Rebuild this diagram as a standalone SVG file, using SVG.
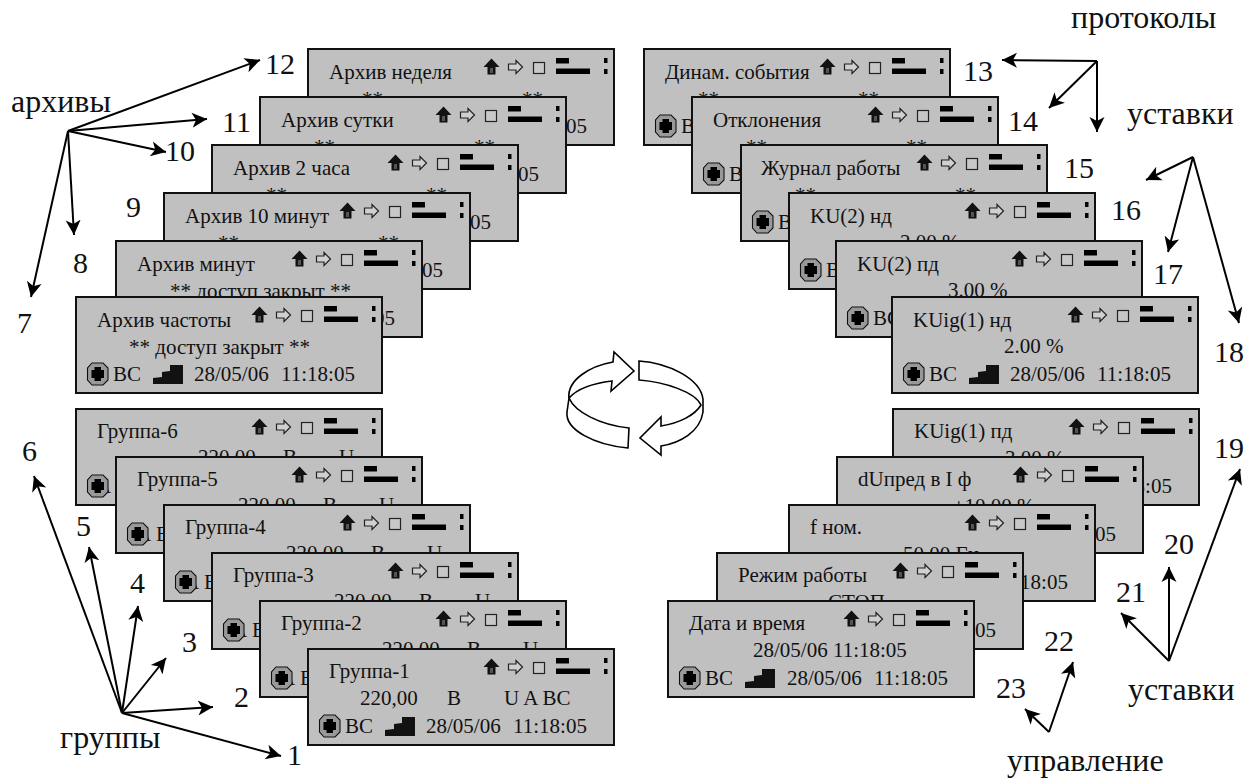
<svg xmlns="http://www.w3.org/2000/svg" xmlns:xlink="http://www.w3.org/1999/xlink" width="1251" height="780" viewBox="0 0 1251 780">
<style>
text{font-family:"Liberation Serif","Times New Roman",serif;fill:#111}
.t{font-size:21px}
.l{font-size:30px}
.w{font-size:32px}
.card{fill:#c0c0c0;stroke:#111;stroke-width:2}
.c{fill:none;stroke:#000;stroke-width:2;marker-end:url(#ah)}
.rot{fill:#fff;stroke:#000;stroke-width:1.6;stroke-linejoin:miter}
</style>
<defs>
<marker id="ah" markerUnits="userSpaceOnUse" markerWidth="20" markerHeight="18" refX="15" refY="9" orient="auto"><path d="M15,9 L0,1.500 L4,9 L0,16.500 Z" fill="#000"/></marker>
<g id="icons">
<path d="M183.500,9.500 L191.500,18 L187.500,18 L187.500,25.500 L179.500,25.500 L179.500,18 L175.500,18 Z" fill="#111"/>
<rect x="182" y="19" width="3" height="5" fill="#555"/>
<path d="M200.500,15 H208 V11.500 L214.500,18 L208,24.500 V21 H200.500 Z" fill="#d0d0d0" stroke="#222" stroke-width="1.200"/>
<rect x="225.500" y="13.500" width="11" height="11" fill="#c8c8c8" stroke="#222" stroke-width="1.200"/>
<rect x="248" y="9" width="13" height="5.500" fill="#000"/>
<rect x="248" y="19.500" width="34" height="5.500" fill="#000"/>
<rect x="296" y="9" width="3.500" height="5" fill="#000"/>
<rect x="296" y="20" width="3.500" height="5" fill="#000"/>
</g>
<g id="state">
<path d="M16,66 H27 L32,71 V83 L27,88 H16 L11.500,83 V71 Z" fill="#999" stroke="#111" stroke-width="1.100"/>
<path d="M18.500,70 H25 V73 H28 V81 H25 V84 H18.500 V81 H15.500 V73 H18.500 Z" fill="#000"/>
</g>
<path id="stair" d="M77,87 V81 L86,80 V75 L94,74 V68 H107 V87 Z" fill="#111"/>
</defs>

<g id="connectors">
<path class="c" d="M68,131 L260,60"/>
<path class="c" d="M68,131 L207,119"/>
<path class="c" d="M68,131 L166,152"/>
<path class="c" d="M68,131 L74,235"/>
<path class="c" d="M68,131 L31,297"/>
<path class="c" d="M122,713 L281,756"/>
<path class="c" d="M122,713 L213,707"/>
<path class="c" d="M122,713 L166,658"/>
<path class="c" d="M122,713 L138,606"/>
<path class="c" d="M122,713 L89,547"/>
<path class="c" d="M122,713 L34,476"/>
<path class="c" d="M1097,61 L1002,60"/>
<path class="c" d="M1097,61 L1049,108"/>
<path class="c" d="M1097,61 L1097,132"/>
<path class="c" d="M1193,157 L1146,180"/>
<path class="c" d="M1193,157 L1168,252"/>
<path class="c" d="M1193,157 L1239,323"/>
<path class="c" d="M1169,661 L1240,469"/>
<path class="c" d="M1169,661 L1169,567"/>
<path class="c" d="M1169,661 L1121,613"/>
<path class="c" d="M1049,732 L1073,662"/>
<path class="c" d="M1049,732 L1025,709"/>
</g>

<g id="labels">
<text class="w" x="11" y="112">архивы</text>
<text class="w" x="60" y="748">группы</text>
<text class="w" x="1071" y="28">протоколы</text>
<text class="w" x="1127" y="124">уставки</text>
<text class="w" x="1128" y="700">уставки</text>
<text class="w" x="1007" y="771">управление</text>
<text class="l" x="287" y="765">1</text>
<text class="l" x="234" y="707">2</text>
<text class="l" x="182" y="652">3</text>
<text class="l" x="130" y="593">4</text>
<text class="l" x="76" y="536">5</text>
<text class="l" x="22" y="461">6</text>
<text class="l" x="17" y="333">7</text>
<text class="l" x="73" y="273">8</text>
<text class="l" x="126" y="217">9</text>
<text class="l" x="165" y="161">10</text>
<text class="l" x="222" y="132">11</text>
<text class="l" x="265" y="74">12</text>
<text class="l" x="963" y="81">13</text>
<text class="l" x="1008" y="131">14</text>
<text class="l" x="1064" y="178">15</text>
<text class="l" x="1111" y="220">16</text>
<text class="l" x="1153" y="284">17</text>
<text class="l" x="1214" y="362">18</text>
<text class="l" x="1214" y="458">19</text>
<text class="l" x="1164" y="554">20</text>
<text class="l" x="1116" y="602">21</text>
<text class="l" x="1044" y="651">22</text>
<text class="l" x="996" y="698">23</text>
</g>

<g id="rotation">
<path class="rot" d="M569,398 C575,412 600,425 629,428 L628,448 C595,445 565,430 567,412 Z"/>
<path class="rot" d="M569,398 C567,380 590,366 613,362 L614,352 L634,371 L611,391 L612,381 C595,383 578,388 569,398 Z"/>
<path class="rot" d="M639,361 C668,363 700,378 703,399 L703,412 C700,432 680,443 661,446 L661,455 L640,438 L661,417 L661,426 C680,423 695,415 701,405 C695,392 665,382 639,380 Z"/>
</g>

<g id="node-arch-week" transform="translate(308,49)"><rect class="card" width="306" height="96"/><text class="t" x="21" y="30">Архив неделя</text><use href="#icons"/><text class="t" x="54" y="57.300">** доступ закрыт **</text><use href="#state"/><text class="t" x="37" y="84">ВС</text><use href="#stair"/><text class="t" x="118" y="84">28/05/06</text><text class="t" x="205" y="84">11:18:05</text></g>
<g id="node-arch-day" transform="translate(260,97)"><rect class="card" width="306" height="96"/><text class="t" x="21" y="30">Архив сутки</text><use href="#icons"/><text class="t" x="54" y="57.300">** доступ закрыт **</text><use href="#state"/><text class="t" x="37" y="84">ВС</text><use href="#stair"/><text class="t" x="118" y="84">28/05/06</text><text class="t" x="205" y="84">11:18:05</text></g>
<g id="node-arch-2h" transform="translate(212,145)"><rect class="card" width="306" height="96"/><text class="t" x="21" y="30">Архив 2 часа</text><use href="#icons"/><text class="t" x="54" y="57.300">** доступ закрыт **</text><use href="#state"/><text class="t" x="37" y="84">ВС</text><use href="#stair"/><text class="t" x="118" y="84">28/05/06</text><text class="t" x="205" y="84">11:18:05</text></g>
<g id="node-arch-10m" transform="translate(164,193)"><rect class="card" width="306" height="96"/><text class="t" x="21" y="30">Архив 10 минут</text><use href="#icons"/><text class="t" x="54" y="57.300">** доступ закрыт **</text><use href="#state"/><text class="t" x="37" y="84">ВС</text><use href="#stair"/><text class="t" x="118" y="84">28/05/06</text><text class="t" x="205" y="84">11:18:05</text></g>
<g id="node-arch-min" transform="translate(116,241)"><rect class="card" width="306" height="96"/><text class="t" x="21" y="30">Архив минут</text><use href="#icons"/><text class="t" x="54" y="57.300">** доступ закрыт **</text><use href="#state"/><text class="t" x="37" y="84">ВС</text><use href="#stair"/><text class="t" x="118" y="84">28/05/06</text><text class="t" x="205" y="84">11:18:05</text></g>
<g id="node-arch-freq" transform="translate(76,297)"><rect class="card" width="306" height="96"/><text class="t" x="21" y="30">Архив частоты</text><use href="#icons"/><text class="t" x="53" y="57.300">** доступ закрыт **</text><use href="#state"/><text class="t" x="37" y="84">ВС</text><use href="#stair"/><text class="t" x="118" y="84">28/05/06</text><text class="t" x="205" y="84">11:18:05</text></g>

<g id="node-dyn" transform="translate(644,49)"><rect class="card" width="306" height="96"/><text class="t" x="21" y="30">Динам. события</text><use href="#icons"/><text class="t" x="54" y="57.300">** доступ закрыт **</text><use href="#state"/><text class="t" x="37" y="84">ВС</text><use href="#stair"/><text class="t" x="118" y="84">28/05/06</text><text class="t" x="205" y="84">11:18:05</text></g>
<g id="node-dev" transform="translate(692,97)"><rect class="card" width="306" height="96"/><text class="t" x="21" y="30">Отклонения</text><use href="#icons"/><text class="t" x="54" y="57.300">** доступ закрыт **</text><use href="#state"/><text class="t" x="37" y="84">ВС</text><use href="#stair"/><text class="t" x="118" y="84">28/05/06</text><text class="t" x="205" y="84">11:18:05</text></g>
<g id="node-log" transform="translate(741,145)"><rect class="card" width="306" height="96"/><text class="t" x="20" y="30">Журнал работы</text><use href="#icons"/><text class="t" x="54" y="57.300">** доступ закрыт **</text><use href="#state"/><text class="t" x="37" y="84">ВС</text><use href="#stair"/><text class="t" x="118" y="84">28/05/06</text><text class="t" x="205" y="84">11:18:05</text></g>
<g id="node-ku2nd" transform="translate(789,193)"><rect class="card" width="306" height="96"/><text class="t" x="21" y="30">KU(2) нд</text><use href="#icons"/><text class="t" x="111" y="56">2.00 %</text><use href="#state"/><text class="t" x="37" y="84">ВС</text><use href="#stair"/><text class="t" x="118" y="84">28/05/06</text><text class="t" x="205" y="84">11:18:05</text></g>
<g id="node-ku2pd" transform="translate(836,241)"><rect class="card" width="306" height="96"/><text class="t" x="21" y="30">KU(2) пд</text><use href="#icons"/><text class="t" x="112" y="56">3.00 %</text><use href="#state"/><text class="t" x="37" y="84">ВС</text><use href="#stair"/><text class="t" x="118" y="84">28/05/06</text><text class="t" x="205" y="84">11:18:05</text></g>
<g id="node-kuig1nd" transform="translate(892,297)"><rect class="card" width="306" height="96"/><text class="t" x="21" y="30">KUig(1) нд</text><use href="#icons"/><text class="t" x="112" y="56">2.00 %</text><use href="#state"/><text class="t" x="37" y="84">ВС</text><use href="#stair"/><text class="t" x="118" y="84">28/05/06</text><text class="t" x="205" y="84">11:18:05</text></g>

<g id="node-g6" transform="translate(76,409)"><rect class="card" width="306" height="96"/><text class="t" x="21" y="29">Группа-6</text><use href="#icons"/><text class="t" x="122" y="55">220,00</text><text class="t" x="207" y="55">В</text><text class="t" x="263" y="55">U</text><text class="t" x="20" y="84">А</text><use href="#state"/><text class="t" x="40" y="84">ВС</text><use href="#stair"/><text class="t" x="118" y="84">28/05/06</text><text class="t" x="205" y="84">11:18:05</text></g>
<g id="node-g5" transform="translate(116,457)"><rect class="card" width="306" height="96"/><text class="t" x="21" y="29">Группа-5</text><use href="#icons"/><text class="t" x="122" y="55">220,00</text><text class="t" x="207" y="55">В</text><text class="t" x="263" y="55">U</text><text class="t" x="20" y="84">А</text><use href="#state"/><text class="t" x="40" y="84">ВС</text><use href="#stair"/><text class="t" x="118" y="84">28/05/06</text><text class="t" x="205" y="84">11:18:05</text></g>
<g id="node-g4" transform="translate(164,505)"><rect class="card" width="306" height="96"/><text class="t" x="21" y="29">Группа-4</text><use href="#icons"/><text class="t" x="122" y="55">220,00</text><text class="t" x="207" y="55">В</text><text class="t" x="263" y="55">U</text><text class="t" x="20" y="84">А</text><use href="#state"/><text class="t" x="40" y="84">ВС</text><use href="#stair"/><text class="t" x="118" y="84">28/05/06</text><text class="t" x="205" y="84">11:18:05</text></g>
<g id="node-g3" transform="translate(212,553)"><rect class="card" width="306" height="96"/><text class="t" x="21" y="29">Группа-3</text><use href="#icons"/><text class="t" x="122" y="55">220,00</text><text class="t" x="207" y="55">В</text><text class="t" x="263" y="55">U</text><text class="t" x="20" y="84">А</text><use href="#state"/><text class="t" x="40" y="84">ВС</text><use href="#stair"/><text class="t" x="118" y="84">28/05/06</text><text class="t" x="205" y="84">11:18:05</text></g>
<g id="node-g2" transform="translate(260,601)"><rect class="card" width="306" height="96"/><text class="t" x="21" y="29">Группа-2</text><use href="#icons"/><text class="t" x="122" y="55">220,00</text><text class="t" x="207" y="55">В</text><text class="t" x="263" y="55">U</text><text class="t" x="20" y="84">А</text><use href="#state"/><text class="t" x="40" y="84">ВС</text><use href="#stair"/><text class="t" x="118" y="84">28/05/06</text><text class="t" x="205" y="84">11:18:05</text></g>
<g id="node-g1" transform="translate(308,649)"><rect class="card" width="306" height="96"/><text class="t" x="21" y="29">Группа-1</text><use href="#icons"/><text class="t" x="52" y="56">220,00</text><text class="t" x="139" y="56">В</text><text class="t" x="196" y="56">U A ВС</text><use href="#state"/><text class="t" x="37" y="84">ВС</text><use href="#stair"/><text class="t" x="118" y="84">28/05/06</text><text class="t" x="205" y="84">11:18:05</text></g>

<g id="node-kuig1pd" transform="translate(893,409)"><rect class="card" width="306" height="96"/><text class="t" x="21" y="29">KUig(1) пд</text><use href="#icons"/><text class="t" x="112" y="56">3.00 %</text><use href="#state"/><text class="t" x="37" y="84">ВС</text><use href="#stair"/><text class="t" x="118" y="84">28/05/06</text><text class="t" x="205" y="84">11:18:05</text></g>
<g id="node-dupr" transform="translate(837,457)"><rect class="card" width="306" height="96"/><text class="t" x="21" y="29">dUпред в I ф</text><use href="#icons"/><text class="t" x="116" y="56">±10.00 %</text><use href="#state"/><text class="t" x="37" y="84">ВС</text><use href="#stair"/><text class="t" x="118" y="84">28/05/06</text><text class="t" x="205" y="84">11:18:05</text></g>
<g id="node-fnom" transform="translate(789,505)"><rect class="card" width="306" height="96"/><text class="t" x="21" y="29">f ном.</text><use href="#icons"/><text class="t" x="114" y="56">50.00 Гц</text><use href="#state"/><text class="t" x="37" y="84">ВС</text><use href="#stair"/><text class="t" x="118" y="84">28/05/06</text><text class="t" x="205" y="84">11:18:05</text></g>
<g id="node-mode" transform="translate(717,553)"><rect class="card" width="306" height="96"/><text class="t" x="21" y="29">Режим работы</text><use href="#icons"/><text class="t" x="111" y="56">СТОП</text><use href="#state"/><text class="t" x="37" y="84">ВС</text><use href="#stair"/><text class="t" x="118" y="84">28/05/06</text><text class="t" x="205" y="84">11:18:05</text></g>
<g id="node-date" transform="translate(668,601)"><rect class="card" width="306" height="96"/><text class="t" x="21" y="29">Дата и время</text><use href="#icons"/><text class="t" x="85" y="56">28/05/06 11:18:05</text><use href="#state"/><text class="t" x="37" y="84">ВС</text><use href="#stair"/><text class="t" x="119" y="84">28/05/06</text><text class="t" x="206" y="84">11:18:05</text></g>
</svg>
